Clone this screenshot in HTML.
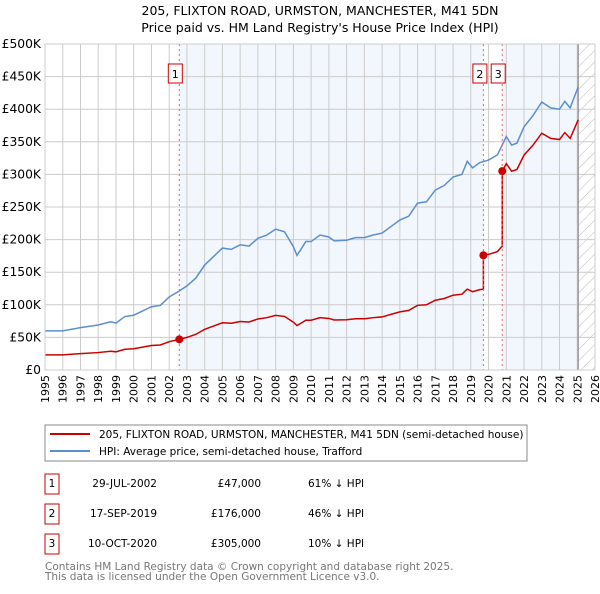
<!DOCTYPE html>
<html><head><meta charset="utf-8"><style>
body{margin:0;background:#fff;font-family:"DejaVu Sans","Liberation Sans",sans-serif;}
svg text{font-family:"DejaVu Sans","Liberation Sans",sans-serif;}
</style></head><body>
<svg id="chart" width="600" height="590" xmlns="http://www.w3.org/2000/svg">
<text x="320" y="15" font-size="12.5" text-anchor="middle">205, FLIXTON ROAD, URMSTON, MANCHESTER, M41 5DN</text>
<text x="320" y="32" font-size="12.5" text-anchor="middle">Price paid vs. HM Land Registry's House Price Index (HPI)</text>
<g id="plot"></g>
<g>
<rect x="45" y="425" width="482" height="36" fill="#fff" stroke="#888"/>
<line x1="50" y1="434" x2="90" y2="434" stroke="#cc0000" stroke-width="2"/>
<text x="99" y="438" font-size="10.5">205, FLIXTON ROAD, URMSTON, MANCHESTER, M41 5DN (semi-detached house)</text>
<line x1="50" y1="451" x2="90" y2="451" stroke="#5b8fd0" stroke-width="2"/>
<text x="99" y="455" font-size="10.5">HPI: Average price, semi-detached house, Trafford</text>
</g>
<g id="table" font-size="10.5"></g>
<text x="45" y="570" font-size="10.5" fill="#777">Contains HM Land Registry data © Crown copyright and database right 2025.</text>
<text x="45" y="580" font-size="10.5" fill="#777">This data is licensed under the Open Government Licence v3.0.</text>
</svg>
<script>
const hpiYears=[1995,1996,1997,1998,1998.7,1999,1999.5,2000,2001,2001.5,2002,2002.5,2003,2003.5,2004,2004.5,2005,2005.5,2006,2006.5,2007,2007.5,2008,2008.5,2009,2009.2,2009.4,2009.7,2010,2010.5,2011,2011.3,2012,2012.5,2013,2013.5,2014,2014.5,2015,2015.5,2016,2016.5,2017,2017.5,2018,2018.5,2018.8,2019.1,2019.5,2020,2020.5,2021,2021.3,2021.6,2022,2022.5,2023,2023.5,2024,2024.3,2024.6,2025.05];
const hpiValues=[60,60,65,69,74,72,82,84,97,99,112,120,129,141,161,174,187,185,192,190,202,207,216,212,189,176,184,197,197,207,204,198,199,203,203,207,210,220,230,236,256,258,276,283,296,300,320,310,318,322,330,358,345,348,373,390,411,402,400,412,402,434];
const saleDates=[2002.57,2019.71,2020.77];
const salePrices=[47,176,305];
const saleLabels=["1","2","3"];
const saleDateText=["29-JUL-2002","17-SEP-2019","10-OCT-2020"];
const salePriceText=["£47,000","£176,000","£305,000"];
const saleHpiText=["61% ↓ HPI","46% ↓ HPI","10% ↓ HPI"];
const yTicks=[0,50,100,150,200,250,300,350,400,450,500];
const yTickLabels=["£0","£50K","£100K","£150K","£200K","£250K","£300K","£350K","£400K","£450K","£500K"];
const xTicks=[1995,1996,1997,1998,1999,2000,2001,2002,2003,2004,2005,2006,2007,2008,2009,2010,2011,2012,2013,2014,2015,2016,2017,2018,2019,2020,2021,2022,2023,2024,2025,2026];

const NS="http://www.w3.org/2000/svg";
const X0=45,X1=595,Y0=370,Y1=44;
const xs=y=>X0+(y-1995)/31*(X1-X0);
const ys=v=>Y0-v/500*(Y0-Y1);
const plot=document.getElementById('plot');
function mk(tag,attrs,parent){const e=document.createElementNS(NS,tag);for(const k in attrs)e.setAttribute(k,attrs[k]);(parent||plot).appendChild(e);return e;}
function hpiAt(t){for(let i=0;i<hpiYears.length-1;i++){if(t<=hpiYears[i+1]){const f=(t-hpiYears[i])/(hpiYears[i+1]-hpiYears[i]);return hpiValues[i]+f*(hpiValues[i+1]-hpiValues[i]);}}return hpiValues[hpiValues.length-1];}
const endYear=hpiYears[hpiYears.length-1];
let s=mk('rect',{x:xs(saleDates[0]),y:Y1,width:xs(saleDates[1])-xs(saleDates[0]),height:Y0-Y1,fill:'#eef3fc',opacity:0.75});


s=mk('rect',{x:xs(saleDates[2]),y:Y1,width:xs(endYear)-xs(saleDates[2]),height:Y0-Y1,fill:'#eef3fc',opacity:0.75});


const defs=mk('defs',{});
const pat=mk('pattern',{id:'hatch',width:8,height:8,patternUnits:'userSpaceOnUse',patternTransform:'rotate(45)'},defs);
mk('line',{x1:0,y1:0,x2:0,y2:8,stroke:'#bbb','stroke-width':1},pat);
s=mk('rect',{x:xs(endYear),y:Y1,width:X1-xs(endYear),height:Y0-Y1,fill:'url(#hatch)'});


xTicks.forEach(t=>{const l=mk('line',{x1:xs(t),x2:xs(t),y1:Y1,y2:Y0,stroke:'#ccc','stroke-width':1});


const tx=mk('text',{x:0,y:0,'font-size':11,'text-anchor':'end',transform:`translate(${xs(t)+4},${Y0+5}) rotate(-90)`});tx.textContent=t;

});
yTicks.forEach((v,i)=>{const l=mk('line',{x1:X0,x2:X1,y1:ys(v),y2:ys(v),stroke:'#ccc','stroke-width':1});


const tx=mk('text',{x:X0-4,y:ys(v)+4,'font-size':12.3,'text-anchor':'end'});tx.textContent=yTickLabels[i];

});
let l=mk('line',{x1:xs(endYear),x2:xs(endYear),y1:Y1,y2:Y0,stroke:'#888','stroke-width':1.2});


let p=mk('polyline',{points:hpiYears.map((t,i)=>xs(t)+','+ys(hpiValues[i])).join(' '),fill:'none',stroke:'#5b8fd0','stroke-width':1.5});


const ratios=saleDates.map((d,i)=>salePrices[i]/hpiAt(d));
function segIdx(t){let k=0;for(let i=0;i<saleDates.length;i++)if(t>=saleDates[i])k=i;return k;}
const times=[...new Set([...hpiYears,...saleDates])].sort((a,b)=>a-b);
let pts=[];
times.forEach(t=>{
  const si=saleDates.indexOf(t);
  if(si>0){pts.push(xs(t)+','+ys(hpiAt(t)*ratios[si-1]));}
  pts.push(xs(t)+','+ys(hpiAt(t)*ratios[segIdx(t)]));
});
p=mk('polyline',{points:pts.join(' '),fill:'none',stroke:'#cc0000','stroke-width':1.5});


saleDates.forEach((d,i)=>{
  const v=mk('line',{x1:xs(d),x2:xs(d),y1:Y1,y2:Y0,stroke:'#f06060','stroke-width':1,'stroke-dasharray':'2,3'});
  
  
  const c=mk('circle',{cx:xs(d),cy:ys(salePrices[i]),r:4,fill:'#cc0000'});
  
  
  const g=mk('g',{});
  
  
  const x0=xs(d)-(i==1?10.5:11);
  mk('rect',{x:x0,y:64,width:14,height:19,fill:'#fff',stroke:'#cc0000'},g);
  const t=mk('text',{x:x0+7,y:78,'font-size':11,'text-anchor':'middle'},g);t.textContent=saleLabels[i];
});
mk('rect',{x:X0,y:Y1,width:X1-X0,height:Y0-Y1,fill:'none',stroke:'#ccc'});
const tbl=document.getElementById('table');
const rowY=[483,513,543];
saleDates.forEach((d,i)=>{
  const g=mk('g',{},tbl);
  
  
  mk('rect',{x:45,y:rowY[i]-9,width:14,height:20,fill:'#fff',stroke:'#cc0000'},g);
  let t=mk('text',{x:52,y:rowY[i]+4,'text-anchor':'middle'},g);t.textContent=saleLabels[i];
  t=mk('text',{x:157,y:rowY[i]+4,'text-anchor':'end'},g);t.textContent=saleDateText[i];
  t=mk('text',{x:261,y:rowY[i]+4,'text-anchor':'end'},g);t.textContent=salePriceText[i];
  t=mk('text',{x:308,y:rowY[i]+4},g);t.textContent=saleHpiText[i];
});
</script>
</body></html>
